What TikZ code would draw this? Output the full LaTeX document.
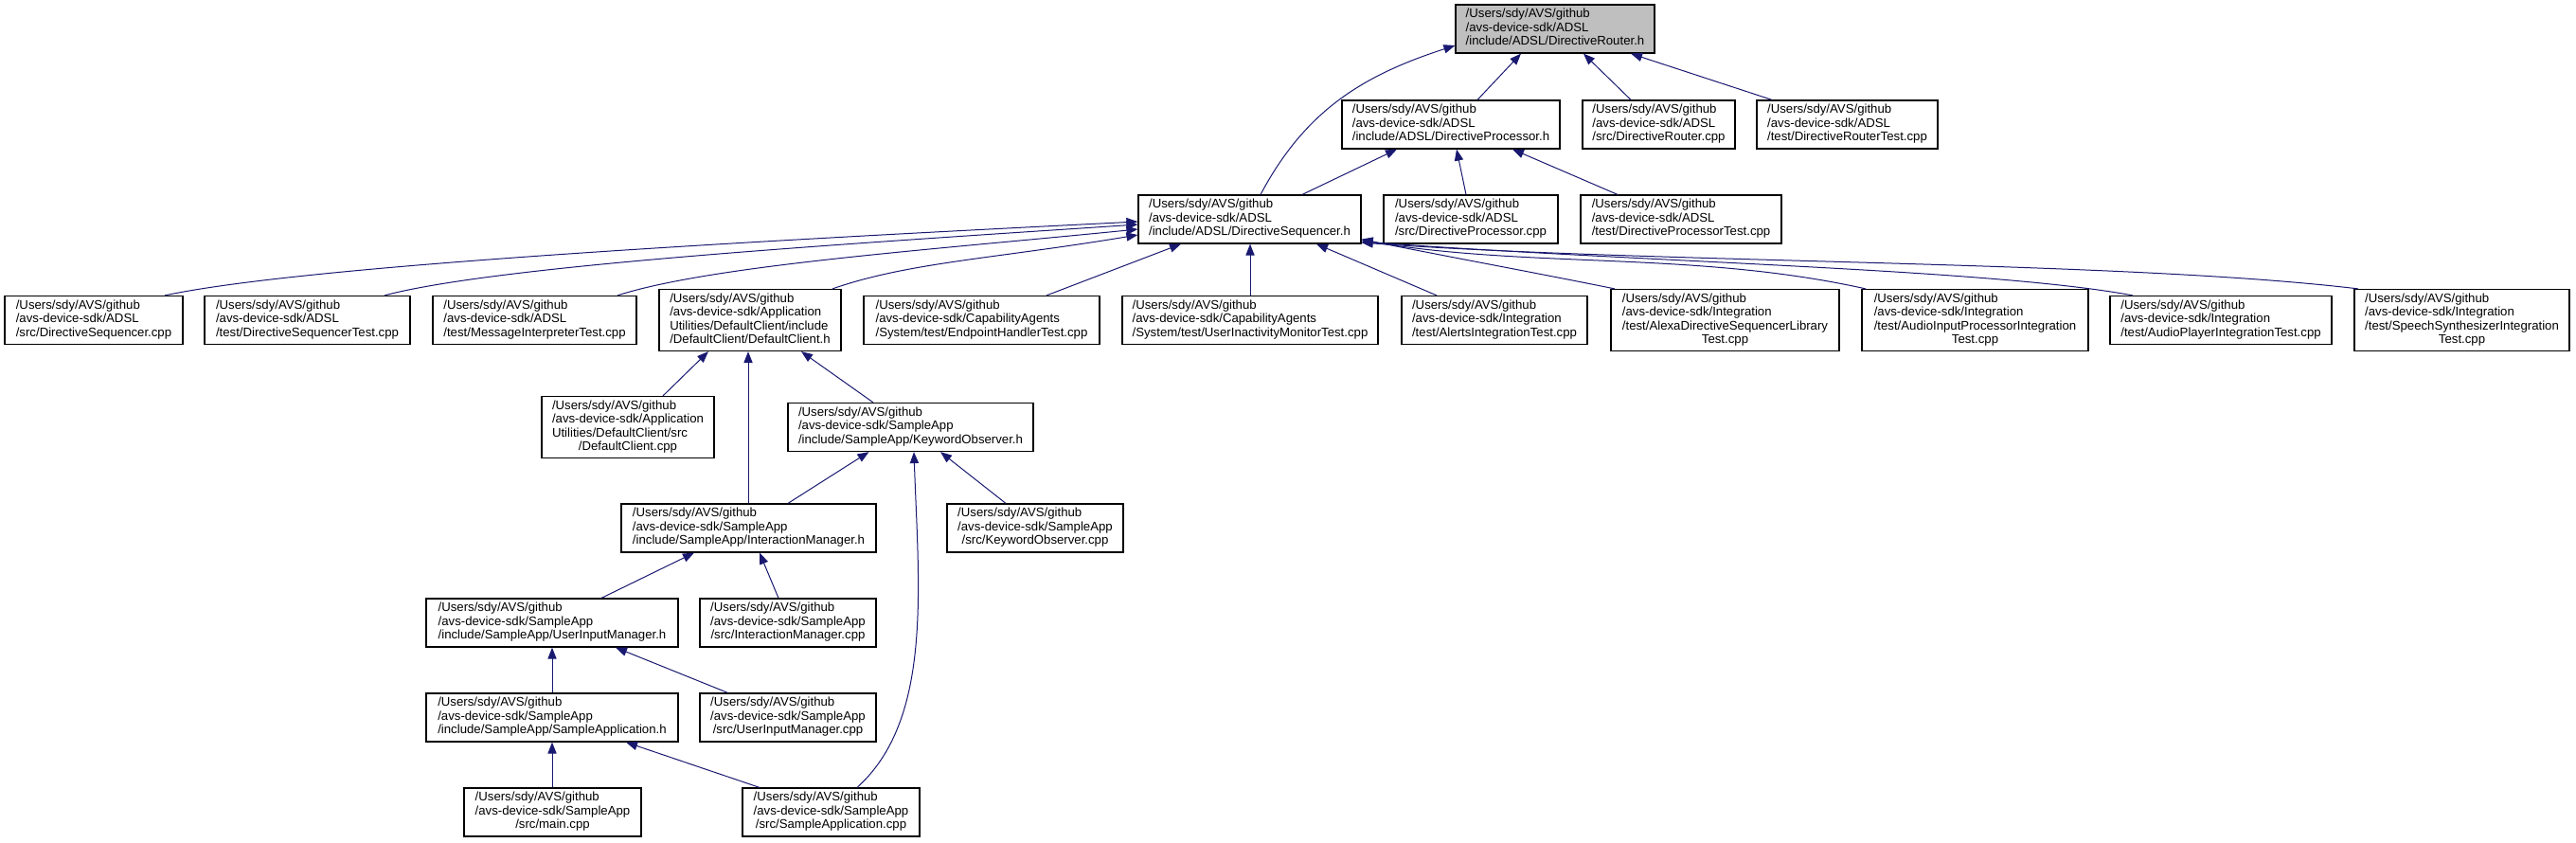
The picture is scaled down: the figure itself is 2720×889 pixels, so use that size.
\documentclass[tikz,border=0pt]{standalone}
\usepackage{fontspec}
\setmainfont{Liberation Sans}
\usetikzlibrary{arrows.meta}
\definecolor{edgeblue}{RGB}{25,25,112}
\definecolor{rootgray}{RGB}{191,191,191}
\newcommand{\fpath}[2]{\begin{tabular}{@{}l@{}}#1\\\multicolumn{1}{@{}c@{}}{#2}\end{tabular}}

\begin{document}
\begin{tikzpicture}[
        x=0.5pt, y=-0.5pt,
        file/.style={draw=black, line width=0.6pt, rectangle, inner sep=0pt, minimum height=25.5pt, font=\fontsize{6.6}{7.25}\selectfont},
        file4/.style={file, minimum height=32.5pt},
        focus/.style={file, fill=rootgray},
        arrow/.style={draw=edgeblue, line width=0.5pt, -{Triangle[length=6pt,width=4.6pt]}}
    ]
    \useasboundingbox (0,0) rectangle (2720,889);

    \node[focus, minimum width=105pt] (DirRouter) at (1642,30.5) {\fpath{/Users/sdy/AVS/github\\/avs-device-sdk/ADSL}{/include/ADSL/DirectiveRouter.h}};

    \node[file, minimum width=115pt] (DirProc) at (1532,131.5) {\fpath{/Users/sdy/AVS/github\\/avs-device-sdk/ADSL}{/include/ADSL/DirectiveProcessor.h}};
    \node[file, minimum width=80.5pt] (RouterCpp) at (1751.5,131.5) {\fpath{/Users/sdy/AVS/github\\/avs-device-sdk/ADSL}{/src/DirectiveRouter.cpp}};
    \node[file, minimum width=95.5pt] (RouterTest) at (1950.5,131.5) {\fpath{/Users/sdy/AVS/github\\/avs-device-sdk/ADSL}{/test/DirectiveRouterTest.cpp}};

    \node[file, minimum width=117.5pt] (DirSeq) at (1319.5,231.5) {\fpath{/Users/sdy/AVS/github\\/avs-device-sdk/ADSL}{/include/ADSL/DirectiveSequencer.h}};
    \node[file, minimum width=92pt] (ProcCpp) at (1553,231.5) {\fpath{/Users/sdy/AVS/github\\/avs-device-sdk/ADSL}{/src/DirectiveProcessor.cpp}};
    \node[file, minimum width=106pt] (ProcTest) at (1775,231.5) {\fpath{/Users/sdy/AVS/github\\/avs-device-sdk/ADSL}{/test/DirectiveProcessorTest.cpp}};

    \node[file, minimum width=94pt] (SeqCpp) at (99,338) {\fpath{/Users/sdy/AVS/github\\/avs-device-sdk/ADSL}{/src/DirectiveSequencer.cpp}};
    \node[file, minimum width=108.5pt] (SeqTest) at (324.5,338) {\fpath{/Users/sdy/AVS/github\\/avs-device-sdk/ADSL}{/test/DirectiveSequencerTest.cpp}};
    \node[file, minimum width=107.5pt] (MsgTest) at (564.5,338) {\fpath{/Users/sdy/AVS/github\\/avs-device-sdk/ADSL}{/test/MessageInterpreterTest.cpp}};
    \node[file4, minimum width=96pt] (ClientH) at (792,338) {\fpath{/Users/sdy/AVS/github\\/avs-device-sdk/Application\\Utilities/DefaultClient/include}{/DefaultClient/DefaultClient.h}};
    \node[file, minimum width=124.5pt] (EndpointTest) at (1036.5,338) {\fpath{/Users/sdy/AVS/github\\/avs-device-sdk/CapabilityAgents}{/System/test/EndpointHandlerTest.cpp}};
    \node[file, minimum width=135pt] (InactivityTest) at (1320,338) {\fpath{/Users/sdy/AVS/github\\/avs-device-sdk/CapabilityAgents}{/System/test/UserInactivityMonitorTest.cpp}};
    \node[file, minimum width=98pt] (AlertsTest) at (1578,338) {\fpath{/Users/sdy/AVS/github\\/avs-device-sdk/Integration}{/test/AlertsIntegrationTest.cpp}};
    \node[file4, minimum width=120.5pt] (SeqLibTest) at (1821.5,338) {\fpath{/Users/sdy/AVS/github\\/avs-device-sdk/Integration\\/test/AlexaDirectiveSequencerLibrary}{Test.cpp}};
    \node[file4, minimum width=119.5pt] (AudioInTest) at (2085.5,338) {\fpath{/Users/sdy/AVS/github\\/avs-device-sdk/Integration\\/test/AudioInputProcessorIntegration}{Test.cpp}};
    \node[file, minimum width=117pt] (PlayerTest) at (2345,338) {\fpath{/Users/sdy/AVS/github\\/avs-device-sdk/Integration}{/test/AudioPlayerIntegrationTest.cpp}};
    \node[file4, minimum width=113.5pt] (SpeechTest) at (2599.5,338) {\fpath{/Users/sdy/AVS/github\\/avs-device-sdk/Integration\\/test/SpeechSynthesizerIntegration}{Test.cpp}};

    \node[file4, minimum width=91pt] (ClientCpp) at (663,451) {\fpath{/Users/sdy/AVS/github\\/avs-device-sdk/Application\\Utilities/DefaultClient/src}{/DefaultClient.cpp}};
    \node[file, minimum width=129.5pt] (KwObsH) at (961.5,451) {\fpath{/Users/sdy/AVS/github\\/avs-device-sdk/SampleApp}{/include/SampleApp/KeywordObserver.h}};

    \node[file, minimum width=134.5pt] (InterMgrH) at (790.5,557.5) {\fpath{/Users/sdy/AVS/github\\/avs-device-sdk/SampleApp}{/include/SampleApp/InteractionManager.h}};
    \node[file, minimum width=93pt] (KwObsCpp) at (1093,557.5) {\fpath{/Users/sdy/AVS/github\\/avs-device-sdk/SampleApp}{/src/KeywordObserver.cpp}};

    \node[file, minimum width=133pt] (InputMgrH) at (583,657.5) {\fpath{/Users/sdy/AVS/github\\/avs-device-sdk/SampleApp}{/include/SampleApp/UserInputManager.h}};
    \node[file, minimum width=93pt] (InterMgrCpp) at (832,657.5) {\fpath{/Users/sdy/AVS/github\\/avs-device-sdk/SampleApp}{/src/InteractionManager.cpp}};

    \node[file, minimum width=133pt] (SampleAppH) at (583,757.5) {\fpath{/Users/sdy/AVS/github\\/avs-device-sdk/SampleApp}{/include/SampleApp/SampleApplication.h}};
    \node[file, minimum width=93pt] (InputMgrCpp) at (832,757.5) {\fpath{/Users/sdy/AVS/github\\/avs-device-sdk/SampleApp}{/src/UserInputManager.cpp}};

    \node[file, minimum width=93.5pt] (MainCpp) at (583.5,857.5) {\fpath{/Users/sdy/AVS/github\\/avs-device-sdk/SampleApp}{/src/main.cpp}};
    \node[file, minimum width=93.5pt] (SampleAppCpp) at (877.5,857.5) {\fpath{/Users/sdy/AVS/github\\/avs-device-sdk/SampleApp}{/src/SampleApplication.cpp}};

    \draw[arrow] ([xshift=5.75pt]DirSeq.north) to[out=62,in=198] ([yshift=-8.75pt]DirRouter.west);
    \draw[arrow] ([xshift=14pt]DirProc.north) -- ([xshift=-18pt]DirRouter.south);
    \draw[arrow] ([xshift=-14.75pt]RouterCpp.north) -- ([xshift=15pt]DirRouter.south);
    \draw[arrow] ([xshift=-39.75pt]RouterTest.north) -- ([xshift=40pt]DirRouter.south);

    \draw[arrow] ([xshift=27.75pt]DirSeq.north) -- ([xshift=-28.5pt]DirProc.south);
    \draw[arrow] ([xshift=-2.5pt]ProcCpp.north) -- ([xshift=3pt]DirProc.south);
    \draw[arrow] ([xshift=-33.5pt]ProcTest.north) -- ([xshift=32.5pt]DirProc.south);

    \draw[arrow] ([xshift=37.5pt]SeqCpp.north) .. controls +(150,-32) and +(-400,20) .. ([yshift=-1.25pt]DirSeq.west);
    \draw[arrow] ([xshift=40.75pt]SeqTest.north) .. controls +(120,-32) and +(-300,20) .. ([yshift=-2.75pt]DirSeq.west);
    \draw[arrow] ([xshift=43.75pt]MsgTest.north) .. controls +(100,-32) and +(-220,22) .. ([yshift=-5.25pt]DirSeq.west);
    \draw[arrow] ([xshift=43.5pt]ClientH.north) .. controls +(80,-28) and +(-150,25) .. ([yshift=-8.25pt]DirSeq.west);
    \draw[arrow] ([xshift=34.25pt]EndpointTest.north) -- ([xshift=-36.25pt]DirSeq.south);
    \draw[arrow] (InactivityTest.north) -- ([xshift=0.25pt]DirSeq.south);
    \draw[arrow] ([xshift=-30.5pt]AlertsTest.north) -- ([xshift=35.25pt]DirSeq.south);
    \draw[arrow] ([xshift=-58.25pt]SeqLibTest.north) .. controls +(-89,-18) and +(89,18) .. ([yshift=2.5pt]DirSeq.south east);
    \draw[arrow] ([xshift=-57.75pt]AudioInTest.north) .. controls +(-180,-40) and +(180,30) .. ([yshift=2pt]DirSeq.south east);
    \draw[arrow] ([xshift=-46.5pt]PlayerTest.north) .. controls +(-150,-28) and +(300,22) .. ([yshift=1.25pt]DirSeq.south east);
    \draw[arrow] ([xshift=-54.75pt]SpeechTest.north) .. controls +(-250,-30) and +(300,22) .. ([yshift=0.75pt]DirSeq.south east);

    \draw[arrow] ([xshift=18.5pt]ClientCpp.north) -- ([xshift=-22pt]ClientH.south);
    \draw[arrow] ([xshift=-0.25pt]InterMgrH.north) -- ([xshift=-1pt]ClientH.south);
    \draw[arrow] ([xshift=-19.75pt]KwObsH.north) -- ([xshift=27pt]ClientH.south);

    \draw[arrow] ([xshift=20.75pt]InterMgrH.north) -- ([xshift=-22pt]KwObsH.south);
    \draw[arrow] ([xshift=13.75pt]SampleAppCpp.north) .. controls +(80,-72) and +(5,143) .. ([xshift=1.75pt]KwObsH.south);
    \draw[arrow] ([xshift=-15.5pt]KwObsCpp.north) -- ([xshift=15.75pt]KwObsH.south);

    \draw[arrow] ([xshift=26pt]InputMgrH.north) -- ([xshift=-28.75pt]InterMgrH.south);
    \draw[arrow] ([xshift=-5pt]InterMgrCpp.north) -- ([xshift=5.75pt]InterMgrH.south);

    \draw[arrow] (SampleAppH.north) -- (InputMgrH.south);
    \draw[arrow] ([xshift=-31.75pt]InputMgrCpp.north) -- ([xshift=33.5pt]InputMgrH.south);

    \draw[arrow] ([xshift=-0.25pt]MainCpp.north) -- (SampleAppH.south);
    \draw[arrow] ([xshift=-37.75pt]SampleAppCpp.north) -- ([xshift=39pt]SampleAppH.south);

\end{tikzpicture}
\end{document}
